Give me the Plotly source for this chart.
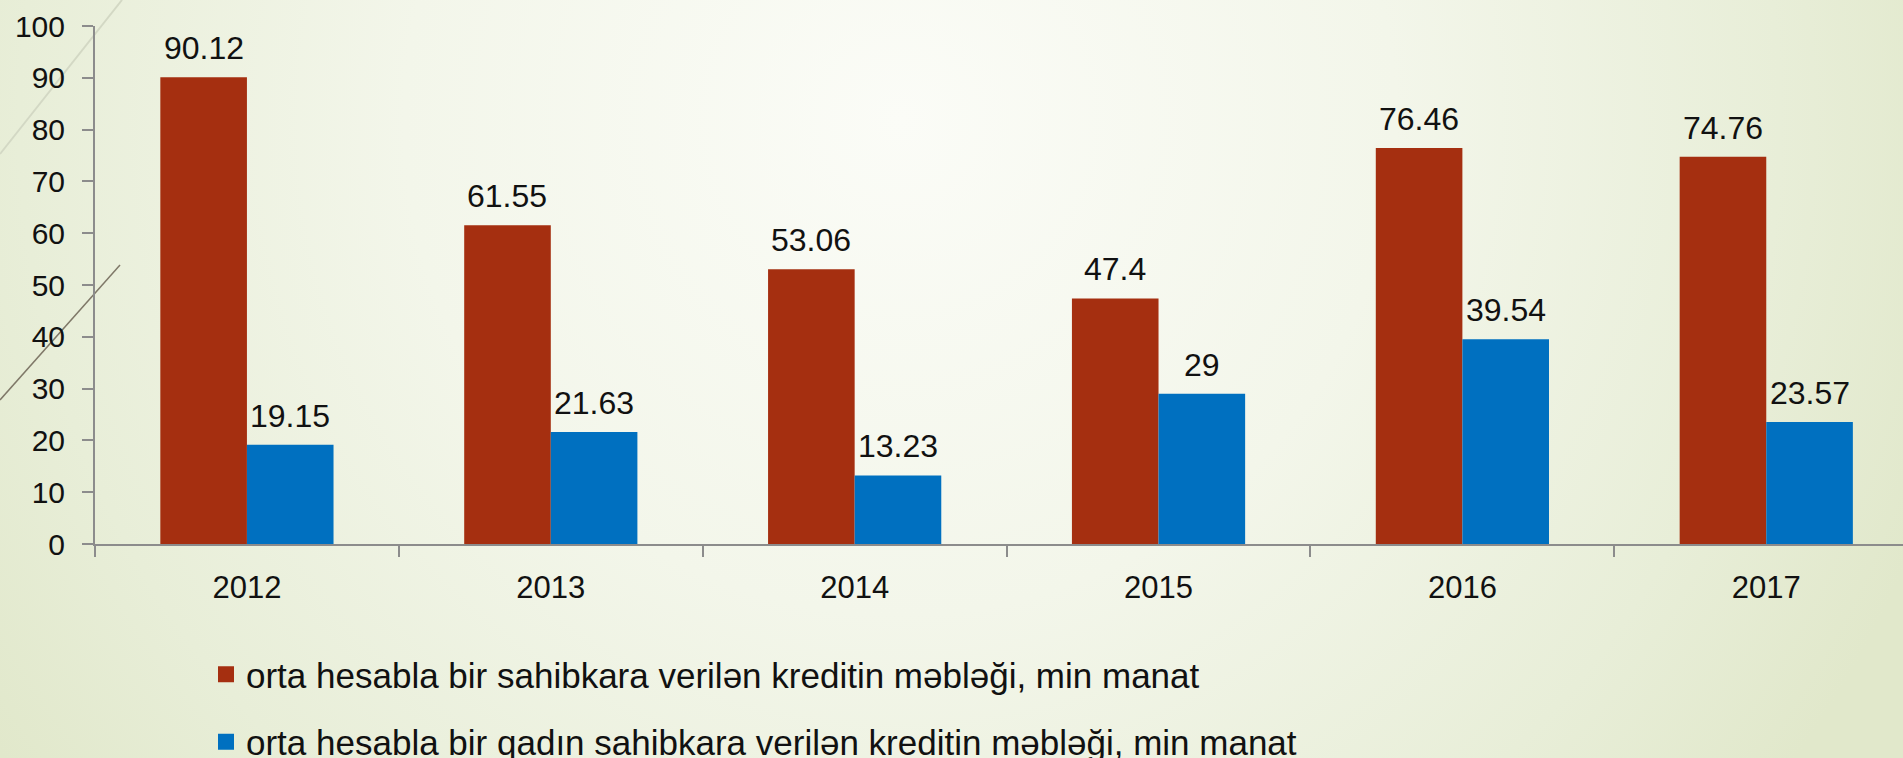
import base64
import plotly.graph_objects as go

years = ["2012", "2013", "2014", "2015", "2016", "2017"]
total_credit = [90.12, 61.55, 53.06, 47.4, 76.46, 74.76]
women_credit = [19.15, 21.63, 13.23, 29, 39.54, 23.57]
name_total = "orta hesabla bir sahibkara verilən kreditin məbləği, min manat"
name_women = "orta hesabla bir qadın sahibkara verilən kreditin məbləği, min manat"
y_ticks = [0, 10, 20, 30, 40, 50, 60, 70, 80, 90, 100]

RED = "#A52F10"
BLUE = "#0070C0"
FONT = "Liberation Sans, Arial, sans-serif"
W, H = 1903, 758
L, R, T, B = 95, 0, 26, 214
PW, PH = W - L - R, H - T - B


def px2paper(px, py):
    return (px - L) / PW, (H - B - py) / PH


fig = go.Figure()
fig.add_trace(go.Bar(x=years, y=total_credit, name=name_total, marker=dict(color=RED, line=dict(width=0)),
                     showlegend=False))
fig.add_trace(go.Bar(x=years, y=women_credit, name=name_women, marker=dict(color=BLUE, line=dict(width=0)),
                     showlegend=False))
# legend entries (square swatches)
fig.add_trace(go.Scatter(x=[None], y=[None], mode="markers", name=name_total, legendgroup="a",
                         marker=dict(symbol="square", size=16, color=RED)))
fig.add_trace(go.Scatter(x=[None], y=[None], mode="markers", name=name_women, legendgroup="b",
                         marker=dict(symbol="square", size=16, color=BLUE)))

annotations = []
for vals, shift in ((total_credit, -43.3), (women_credit, 43.3)):
    for i, v in enumerate(vals):
        annotations.append(dict(x=i, y=v, xref="x", yref="y", text=f"{v:g}", showarrow=False,
                                xshift=shift, yshift=9, yanchor="bottom",
                                font=dict(family=FONT, size=32, color="#111111")))

svg = (f"<svg xmlns='http://www.w3.org/2000/svg' width='{W}' height='{H}' viewBox='0 0 {W} {H}' "
       "preserveAspectRatio='none'><defs><radialGradient id='g' cx='900' cy='120' r='1100' "
       "gradientUnits='userSpaceOnUse'><stop offset='0' stop-color='#fbfcf7'/>"
       "<stop offset='0.45' stop-color='#f3f6ea'/><stop offset='0.8' stop-color='#e8eed8'/>"
       "<stop offset='1' stop-color='#e1e8cb'/></radialGradient></defs>"
       f"<rect width='{W}' height='{H}' fill='url(#g)'/></svg>")
src = "data:image/svg+xml;base64," + base64.b64encode(svg.encode()).decode()
x0p, y1p = px2paper(0, 0)
x1p, y0p = px2paper(W, H)

shapes = []
for (ax, ay, bx, by, col, wd) in ((0, 154, 122, 0, "#d3d8c4", 2), (0, 400, 120, 265, "#7f7868", 1.5)):
    p0 = px2paper(ax, ay)
    p1 = px2paper(bx, by)
    shapes.append(dict(type="line", xref="paper", yref="paper", x0=p0[0], y0=p0[1], x1=p1[0], y1=p1[1],
                       line=dict(color=col, width=wd), layer="below"))

lx, ly = px2paper(206, 645)

fig.update_layout(
    width=W, height=H,
    margin=dict(l=L, r=R, t=T, b=B, pad=0, autoexpand=False),
    paper_bgcolor="#eef2e2",
    plot_bgcolor="rgba(0,0,0,0)",
    barmode="group", bargap=0.43, bargroupgap=0,
    font=dict(family=FONT, size=30, color="#111111"),
    images=[dict(source=src, xref="paper", yref="paper", x=x0p, y=y1p, sizex=x1p - x0p, sizey=y1p - y0p,
                 xanchor="left", yanchor="top", sizing="stretch", layer="below")],
    shapes=shapes,
    annotations=annotations,
    showlegend=True,
    legend=dict(orientation="v", x=lx, y=ly, xanchor="left", yanchor="top", bgcolor="rgba(0,0,0,0)",
                font=dict(family=FONT, size=35, color="#111111"), tracegroupgap=19, traceorder="grouped"),
    xaxis=dict(type="category", categoryorder="array", categoryarray=years, range=[-0.5, 5.45],
               showline=True, linecolor="#8c8c8c", linewidth=2, ticks="outside", tickson="boundaries",
               ticklen=11, tickcolor="#8c8c8c", tickwidth=2, showgrid=False, zeroline=False,
               ticklabelstandoff=15, tickfont=dict(size=31)),
    yaxis=dict(range=[0, 100], tickvals=y_ticks, showline=True, linecolor="#8c8c8c", linewidth=2,
               ticks="outside", ticklen=11, tickcolor="#8c8c8c", tickwidth=2, showgrid=False,
               zeroline=False, ticklabelstandoff=11, tickfont=dict(size=30)),
)

fig.write_html("out.html", config={"displayModeBar": False},
               post_script="document.body.style.margin='0';document.body.style.overflow='hidden';")
